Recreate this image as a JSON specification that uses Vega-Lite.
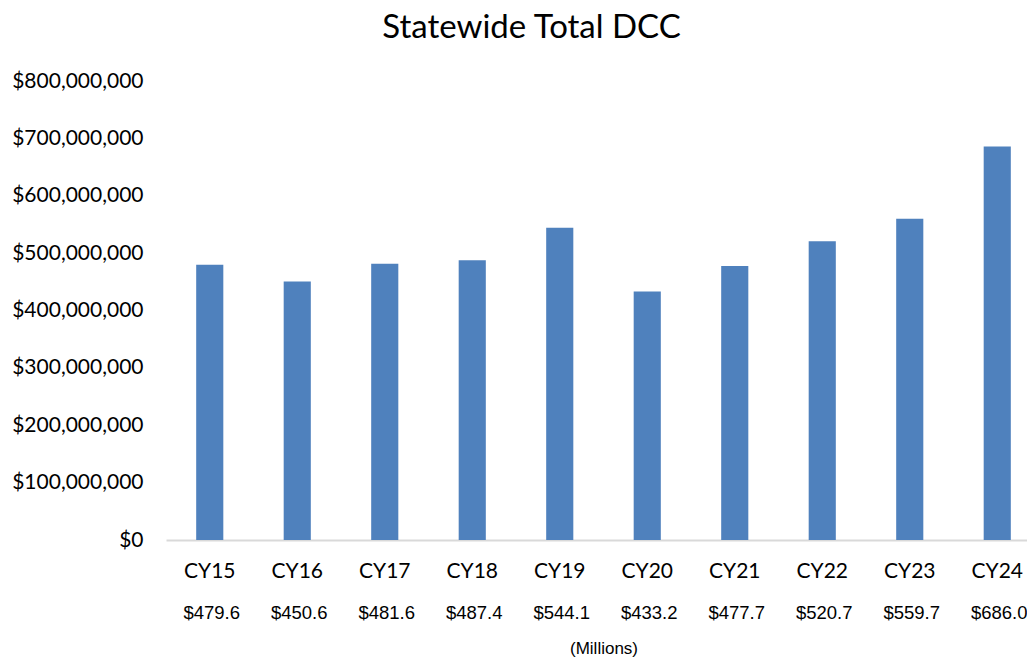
{
  "$schema": "https://vega.github.io/schema/vega-lite/v6.json",
  "autosize": {"type": "none"},
  "width": 861,
  "height": 459,
  "padding": {"left": 166, "top": 81, "right": 0, "bottom": 117},
  "background": "white",
  "title": {
    "text": "Statewide Total DCC",
    "font": "Lato",
    "fontSize": 33,
    "fontWeight": "normal",
    "color": "#000000",
    "anchor": "middle",
    "dx": -65,
    "offset": 25
  },
  "data": {
    "values": [
      {"year": "CY15", "value": 479600000, "label": "$479.6"},
      {"year": "CY16", "value": 450600000, "label": "$450.6"},
      {"year": "CY17", "value": 481600000, "label": "$481.6"},
      {"year": "CY18", "value": 487400000, "label": "$487.4"},
      {"year": "CY19", "value": 544100000, "label": "$544.1"},
      {"year": "CY20", "value": 433200000, "label": "$433.2"},
      {"year": "CY21", "value": 477700000, "label": "$477.7"},
      {"year": "CY22", "value": 520700000, "label": "$520.7"},
      {"year": "CY23", "value": 559700000, "label": "$559.7"},
      {"year": "CY24", "value": 686000000, "label": "$686.0"}
    ]
  },
  "encoding": {
    "x": {
      "field": "year",
      "type": "nominal",
      "sort": null,
      "scale": {"range": [0, 875], "paddingInner": 0, "paddingOuter": 0},
      "axis": {
        "title": "(Millions)",
        "titleFont": "Liberation Sans",
        "titleFontSize": 17,
        "titleFontWeight": "normal",
        "titleColor": "#000000",
        "titlePadding": 59,
        "labelAngle": 0,
        "labelFont": "Lato",
        "labelFontSize": 21,
        "labelColor": "#000000",
        "labelPadding": 20,
        "ticks": false,
        "grid": false,
        "domainColor": "#d9d9d9",
        "domainWidth": 2
      }
    }
  },
  "layer": [
    {
      "mark": {"type": "bar", "color": "#4f81bd", "width": {"band": 0.31}},
      "encoding": {
        "y": {
          "field": "value",
          "type": "quantitative",
          "scale": {"domain": [0, 800000000], "nice": false},
          "axis": {
            "title": null,
            "values": [0, 100000000, 200000000, 300000000, 400000000, 500000000, 600000000, 700000000, 800000000],
            "format": "$,.0f",
            "labelFont": "Lato",
            "labelFontSize": 21,
            "labelColor": "#000000",
            "labelPadding": 23,
            "ticks": false,
            "domain": false,
            "grid": false
          }
        }
      }
    },
    {
      "mark": {"type": "text", "font": "Liberation Sans", "fontSize": 18.5, "color": "#000000", "baseline": "middle", "dy": 73, "dx": 2},
      "encoding": {
        "y": {"datum": 0, "type": "quantitative"},
        "text": {"field": "label"}
      }
    }
  ],
  "config": {"view": {"stroke": null}}
}
